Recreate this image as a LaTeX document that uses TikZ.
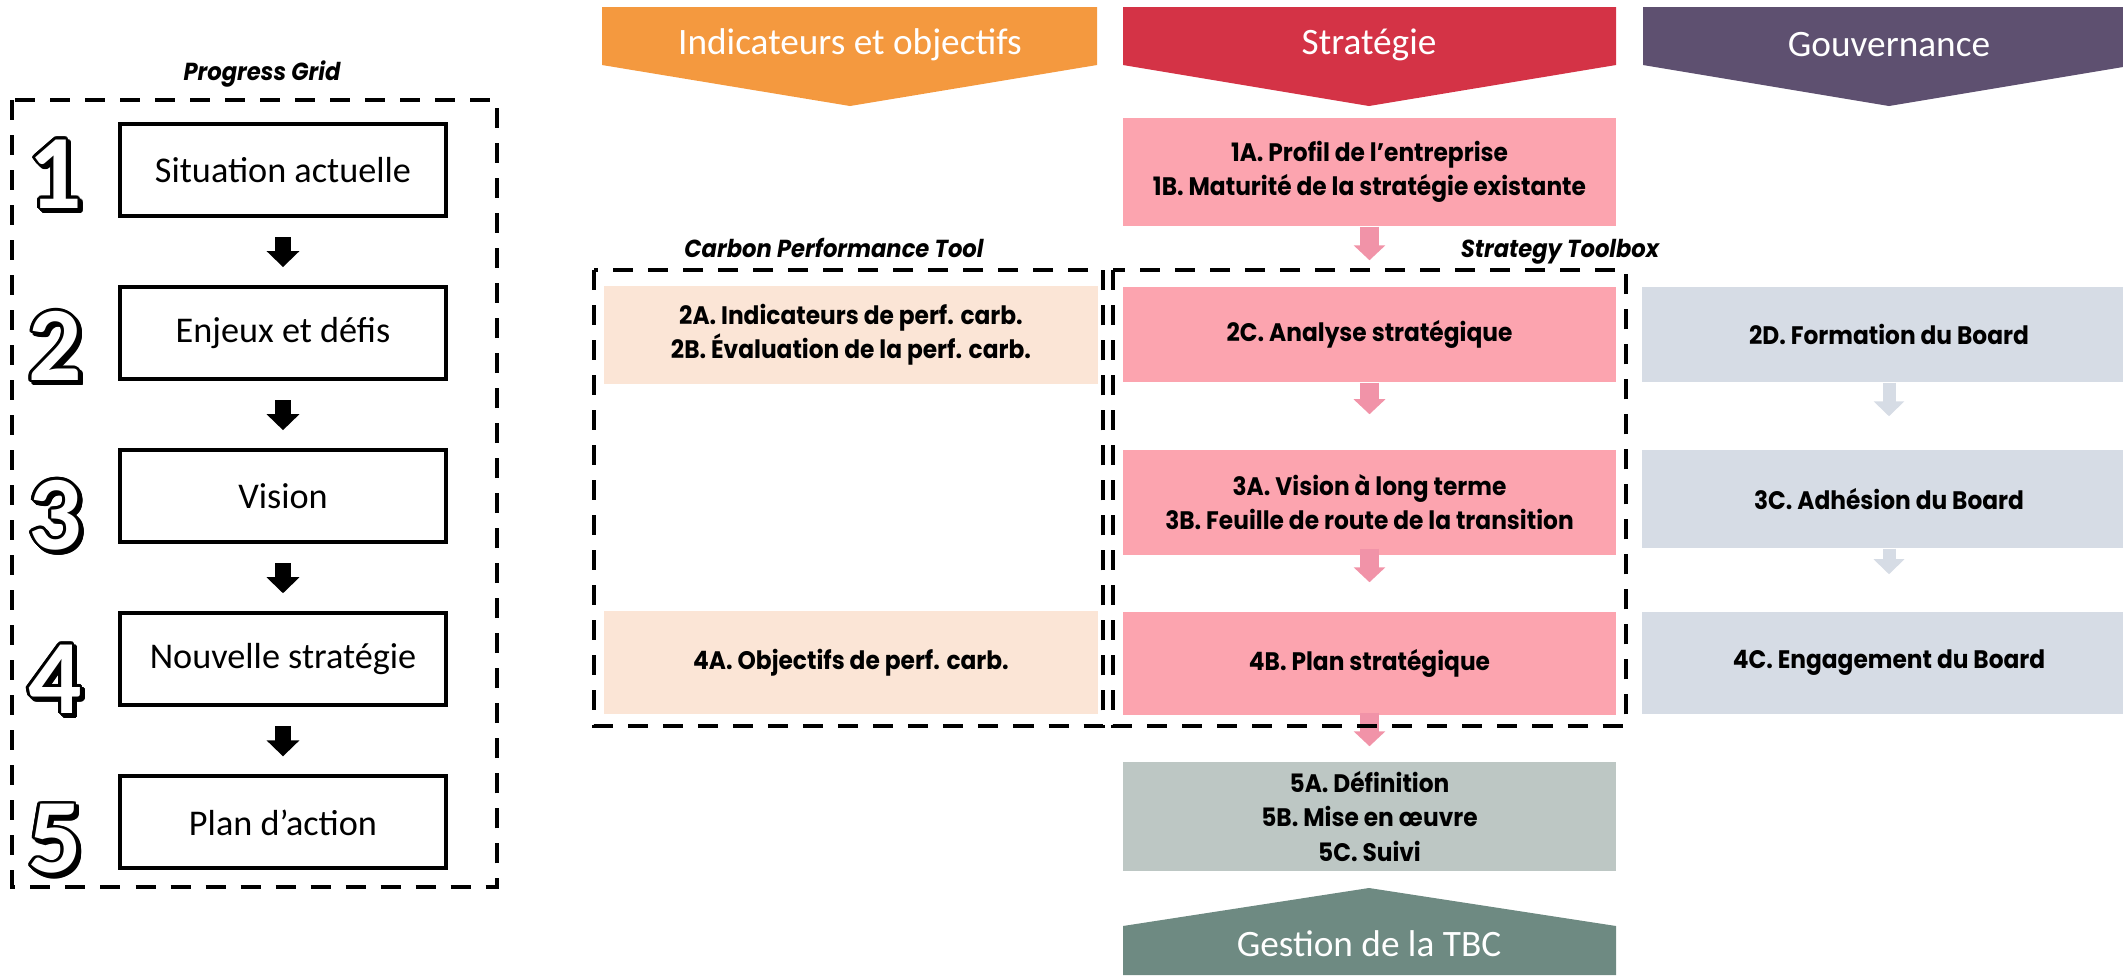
\documentclass[tikz,border=0pt]{standalone}
\usepackage{fontspec}
\setmainfont{Carlito}
\newfontfamily\boxfont[FakeStretch=0.92]{Poppins}
\usepackage{contour}
\contourlength{0.7pt}
\usetikzlibrary{arrows.meta}
\definecolor{hdorange}{HTML}{F4993F}
\definecolor{hdred}{HTML}{D43346}
\definecolor{hdpurple}{HTML}{5E5070}
\definecolor{hdteal}{HTML}{6E8A82}
\definecolor{peach}{HTML}{FBE5D6}
\definecolor{boxpink}{HTML}{FCA4AF}
\definecolor{pinkarrow}{HTML}{F193A8}
\definecolor{govblue}{HTML}{D6DCE5}
\definecolor{sage}{HTML}{BDC7C4}
\tikzstyle{pg} = [rectangle, minimum width=3.26cm, minimum height=0.92cm, draw=black, line width=0.04cm, font=\fontsize{10.3}{12}\selectfont]
\tikzstyle{tb} = [rectangle, minimum width=4.93cm, align=center, inner sep=0pt, font=\boxfont\bfseries\fontsize{7.2}{9.7}\selectfont]
\tikzstyle{hd} = [text=white, font=\fontsize{10.6}{12}\selectfont]
\tikzstyle{lbl} = [font=\boxfont\bfseries\itshape\fontsize{7}{9}\selectfont]
\tikzstyle{num} = [font=\bfseries\fontsize{30}{30}\selectfont]
\tikzstyle{dsh} = [line width=0.04cm, dash pattern=on 0.2cm off 0.15cm]
\tikzstyle{ba} = [line width=0.15cm, -{Triangle[width=0.32cm,length=0.16cm]}]
\tikzstyle{pa} = [draw=pinkarrow, line width=0.19cm, -{Triangle[width=0.31cm,length=0.15cm]}]
\tikzstyle{ga} = [draw=govblue, line width=0.13cm, -{Triangle[width=0.3cm,length=0.15cm]}]

\begin{document}
\begin{tikzpicture}[x=0.01cm, y=-0.01cm, node distance=1.63cm]
	\useasboundingbox (0,0) rectangle (2123,975);
	% column headers
	\fill[hdorange] (602,7) -- (1097,7) -- (1097,65) -- (850,106) -- (602,65) -- cycle;
	\fill[hdred] (1123,7) -- (1616,7) -- (1616,65) -- (1369,106) -- (1123,65) -- cycle;
	\fill[hdpurple] (1643,7) -- (2135,7) -- (2135,65) -- (1889,106) -- (1643,65) -- cycle;
	\fill[hdteal] (1123,975) -- (1123,926) -- (1369,888) -- (1616,926) -- (1616,975) -- cycle;
	\node[hd](h1) at (850,45) {Indicateurs et objectifs};
	\node[hd](h2) at (1369,45) {Stratégie};
	\node[hd](h3) at (1889,45) {Gouvernance};
	\node[hd](h4) at (1369,944) {Gestion de la TBC};

	% progress grid
	\node[pg](s1) at (283,170) {Situation actuelle};
	\node[pg,below of=s1](s2) {Enjeux et défis};
	\node[pg,below of=s2](s3) {Vision};
	\node[pg,below of=s3](s4) {Nouvelle stratégie};
	\node[pg,below of=s4](s5) {Plan d’action};
	\draw[ba,shorten <=0.19cm,shorten >=0.18cm] (s1) -- (s2);
	\draw[ba,shorten <=0.19cm,shorten >=0.18cm] (s2) -- (s3);
	\draw[ba,shorten <=0.19cm,shorten >=0.18cm] (s3) -- (s4);
	\draw[ba,shorten <=0.19cm,shorten >=0.18cm] (s4) -- (s5);
	\foreach \n/\y in {1/175,2/347,3/516,4/680,5/840}{
		\node[num](ns\n) at (58,\y+3) {\contour{black}{\n}};
		\node[num](n\n) at (55,\y) {\contour{black}{\textcolor{white}{\n}}};
	}

	% indicateurs
	\node[tb,fill=peach,minimum height=0.98cm](o2) at (851,335) {2A. Indicateurs de perf. carb.\\2B. Évaluation de la perf. carb.};
	\node[tb,fill=peach,minimum height=1.03cm](o4) at (851,662.5) {4A. Objectifs de perf. carb.};

	% strategie
	\node[tb,fill=boxpink,minimum height=1.08cm](r1) at (1369.5,172) {1A. Profil de l’entreprise\\1B. Maturité de la stratégie existante};
	\node[tb,fill=boxpink,minimum height=0.95cm](r2) at (1369.5,334.5) {2C. Analyse stratégique};
	\node[tb,fill=boxpink,minimum height=1.05cm](r3) at (1369.5,502.5) {3A. Vision à long terme\\3B. Feuille de route de la transition};
	\node[tb,fill=boxpink,minimum height=1.03cm](r4) at (1369.5,663.5) {4B. Plan stratégique};
	\node[tb,fill=sage,minimum height=1.09cm](r5) at (1369.5,816.5) {5A. Définition\\5B. Mise en œuvre\\5C. Suivi};
	\draw[pa,shorten >=0.26cm] (r1) -- (r2);
	\draw[pa,shorten >=0.35cm] (r2) -- (r3);
	\draw[pa,shorten <=-0.07cm,shorten >=0.29cm] (r3) -- (r4);
	\draw[pa,shorten <=-0.03cm,shorten >=0.15cm] (r4) -- (r5);

	% gouvernance
	\node[tb,fill=govblue,minimum height=0.95cm](g2) at (1889,334.5) {2D. Formation du Board};
	\node[tb,fill=govblue,minimum height=0.98cm](g3) at (1889,499) {3C. Adhésion du Board};
	\node[tb,fill=govblue,minimum height=1.02cm](g4) at (1889,663) {4C. Engagement du Board};
	\draw[ga,shorten >=0.33cm] (g2) -- (g3);
	\draw[ga,shorten >=0.37cm] (g3) -- (g4);

	% tool frames
	\draw[dsh] (12,100) rectangle (497,887);
	\draw[dsh] (594,270) rectangle (1103,726);
	\draw[dsh] (1113,270) rectangle (1626,726);
	\node[lbl](l1) at (262,74) {Progress Grid};
	\node[lbl](l2) at (834,248) {Carbon Performance Tool};
	\node[lbl](l3) at (1560,252) {Strategy Toolbox};
\end{tikzpicture}
\end{document}
